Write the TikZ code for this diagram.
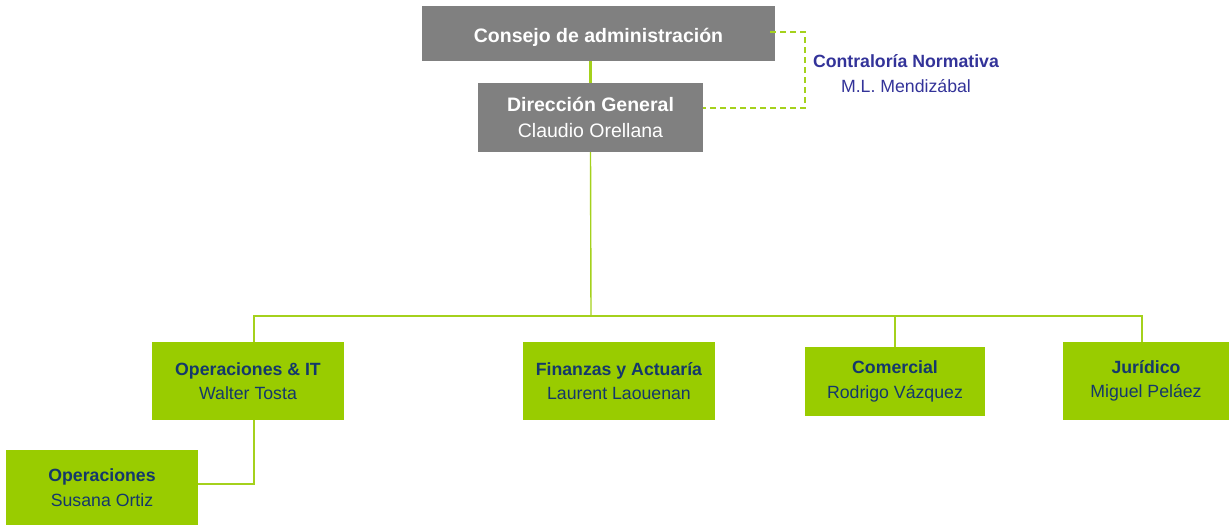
\documentclass[tikz,border=0pt]{standalone}
\usepackage{fontspec}
\setmainfont{Liberation Sans}
\definecolor{boardgray}{HTML}{808080}
\definecolor{unitgreen}{HTML}{99CC00}
\definecolor{linegreen}{HTML}{A4D11C}
\definecolor{unitblue}{HTML}{14386B}
\definecolor{auditblue}{HTML}{333399}
\begin{document}
\begin{tikzpicture}[x=1pt,y=-1pt,
    board/.style={rectangle, fill=boardgray, text=white, inner sep=0pt, align=center,
      font=\fontsize{19.5}{26}\selectfont, execute at begin node={\rule{0pt}{22pt}}},
    unit/.style={rectangle, fill=unitgreen, text=unitblue, inner sep=0pt, align=center,
      font=\fontsize{17.7}{24.5}\selectfont, execute at begin node={\rule{0pt}{19pt}}},
    link/.style={draw=linegreen, line width=1.4pt},
    dotlink/.style={draw=linegreen, line width=1.8pt, dash pattern=on 6pt off 4pt}]
    \useasboundingbox (0,0) rectangle (1229,525);

    % Top
    \node[board, minimum width=353pt, minimum height=55pt] (consejo) at (598.5,33.5) {\textbf{Consejo de administración}};
    \node[board, minimum width=225pt, minimum height=69pt] (direccion) at (590.5,117.5) {\textbf{Dirección General}\\Claudio Orellana};
    \node[text=auditblue, align=center, font=\fontsize{17.7}{25}\selectfont] (contraloria) at (906,74) {\textbf{Contraloría Normativa}\\M.L. Mendizábal};

    % Areas
    \node[unit, minimum width=192pt, minimum height=78pt] (opit) at (248,381) {\textbf{Operaciones \& IT}\\Walter Tosta};
    \node[unit, minimum width=192pt, minimum height=78pt] (finanzas) at (619,381) {\textbf{Finanzas y Actuaría}\\Laurent Laouenan};
    \node[unit, minimum width=180pt, minimum height=69pt] (comercial) at (895,381.5) {\textbf{Comercial}\\Rodrigo Vázquez};
    \node[unit, minimum width=166pt, minimum height=78pt] (juridico) at (1146,381) {\textbf{Jurídico}\\Miguel Peláez};
    \node[unit, minimum width=192pt, minimum height=75pt] (operaciones) at (102,487.5) {\textbf{Operaciones}\\Susana Ortiz};

    \coordinate (bus) at (591,316);
    \coordinate (dashx) at (805,0);
    \coordinate (dashend) at ([yshift=9.5pt]direccion.east);

    % Connections
    \draw[link, line width=2.6pt] (direccion.north) -- (direccion.north |- consejo.south);
    \draw[dotlink] ([xshift=-5pt, yshift=1.5pt]consejo.east) -| (dashx |- dashend) -- (dashend);
    \draw[link] (direccion.south) -- (bus);
    \draw[link] ([xshift=6pt]opit.north) |- (bus) -| ([xshift=-4pt]juridico.north);
    \draw[link] (comercial.north) -- (comercial.north |- bus);
    \draw[link] ([xshift=6pt]opit.south) |- ([yshift=3.5pt]operaciones.east);
\end{tikzpicture}
\end{document}
